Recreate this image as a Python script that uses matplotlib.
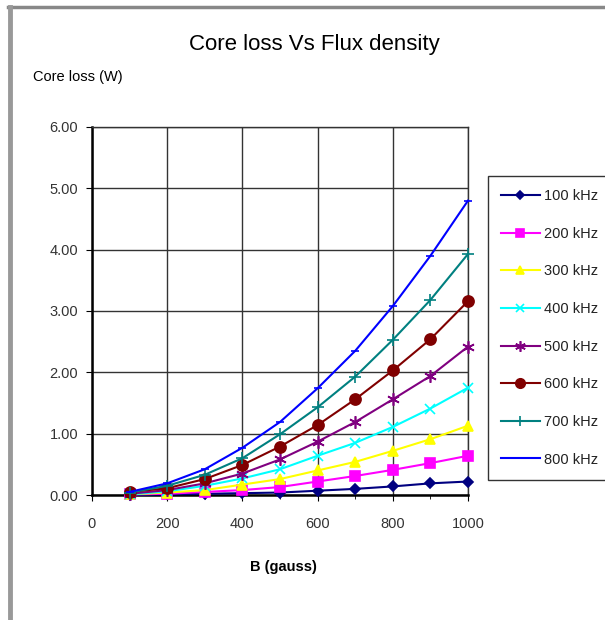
import numpy as np
import matplotlib
matplotlib.use('Agg')
import matplotlib.pyplot as plt
from matplotlib.lines import Line2D

plt.rcParams['font.family'] = ['Liberation Sans', 'DejaVu Sans']

# flux density (gauss)
b_gauss = [100, 200, 300, 400, 500, 600, 700, 800, 900, 1000]

# core loss (W) per frequency
loss_100k = [0.00, 0.01, 0.02, 0.03, 0.04, 0.07, 0.10, 0.14, 0.19, 0.22]
loss_200k = [0.01, 0.02, 0.05, 0.08, 0.13, 0.22, 0.31, 0.41, 0.52, 0.64]
loss_300k = [0.01, 0.04, 0.08, 0.17, 0.26, 0.40, 0.54, 0.72, 0.91, 1.13]
loss_400k = [0.01, 0.06, 0.15, 0.27, 0.42, 0.64, 0.85, 1.11, 1.41, 1.75]
loss_500k = [0.02, 0.08, 0.19, 0.35, 0.58, 0.87, 1.19, 1.56, 1.94, 2.42]
loss_600k = [0.05, 0.11, 0.26, 0.49, 0.79, 1.14, 1.56, 2.03, 2.54, 3.16]
loss_700k = [0.04, 0.15, 0.33, 0.60, 0.99, 1.43, 1.93, 2.53, 3.18, 3.93]
loss_800k = [0.05, 0.19, 0.42, 0.77, 1.19, 1.74, 2.35, 3.08, 3.90, 4.80]

labels = ['100 kHz', '200 kHz', '300 kHz', '400 kHz',
          '500 kHz', '600 kHz', '700 kHz', '800 kHz']
series = [loss_100k, loss_200k, loss_300k, loss_400k,
          loss_500k, loss_600k, loss_700k, loss_800k]

colors = ['#000080', '#FF00FF', '#FFFF00', '#00FFFF',
          '#800080', '#800000', '#008080', '#0000FF']
markers = ['D', 's', '^', 'x', (6, 2, 0), 'o', '+', '_']
msizes = [5, 7, 7, 7, 9, 8, 9, 6]

fig = plt.figure(figsize=(6.05, 6.2), dpi=100)

# grey frame like the original sheet
fig.add_artist(Line2D([0.014, 1.0], [0.9895, 0.9895], color='#888888', lw=2.5))
fig.add_artist(Line2D([0.0165, 0.0165], [0.0, 0.9895], color='#999999', lw=3.5))

ax = fig.add_axes([0.152, 0.2016, 0.6216, 0.5936])

for y, lab, c, m, ms in zip(series, labels, colors, markers, msizes):
    ax.plot(b_gauss, y, color=c, lw=1.5, marker=m, markersize=ms,
            markeredgecolor=c, markerfacecolor=c, markeredgewidth=1.2,
            label=lab, clip_on=False, zorder=3)

ax.set_xlim(0, 1000)
ax.set_ylim(0, 6)
ax.set_xticks(np.arange(0, 1001, 200))
ax.set_xticks(np.arange(0, 1001, 100), minor=True)
ax.set_yticks(np.arange(0, 6.01, 1))
ax.set_yticklabels(['%.2f' % v for v in np.arange(0, 6.01, 1)])
ax.grid(True, which='major', color='#333333', lw=1.0)
ax.tick_params(axis='both', which='major', labelsize=10.5, labelcolor='#333333',
               length=4, direction='out')
ax.tick_params(axis='x', which='minor', length=3, direction='out')
ax.tick_params(axis='x', pad=12)
ax.tick_params(axis='y', pad=6)
for s in ['left', 'bottom']:
    ax.spines[s].set_linewidth(1.8)
for s in ['top', 'right']:
    ax.spines[s].set_linewidth(1.0)
    ax.spines[s].set_color('#333333')

fig.text(0.52, 0.928, 'Core loss Vs Flux density', ha='center', va='center', fontsize=16)
fig.text(0.055, 0.876, 'Core loss (W)', ha='left', va='center', fontsize=10.5)
fig.text(0.468, 0.085, 'B (gauss)', ha='center', va='center', fontsize=10.5,
         fontweight='bold')

leg = fig.legend(loc='upper left', bbox_to_anchor=(0.806, 0.716), frameon=True,
                 fontsize=10.5, handlelength=2.7, labelspacing=1.62,
                 borderpad=0.9, handletextpad=0.25, fancybox=False, borderaxespad=0,
                 markerscale=0.85)
leg.get_frame().set_edgecolor('black')
leg.get_frame().set_linewidth(1.0)
for t in leg.get_texts():
    t.set_color('#222222')

fig.savefig('out.png', dpi=100)
